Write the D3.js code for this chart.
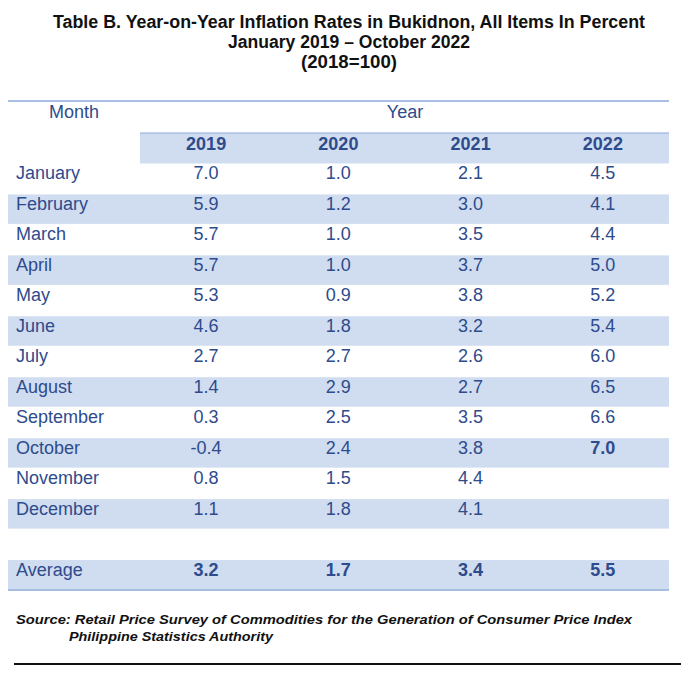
<!DOCTYPE html>
<html><head><meta charset="utf-8">
<script src="https://cdn.jsdelivr.net/npm/d3@7/dist/d3.min.js"></script>
<style>body{margin:0;background:#fff}svg{display:block}</style>
</head><body>
<script>
const titleLines = ["Table B. Year-on-Year Inflation Rates in Bukidnon, All Items In Percent","January 2019 \u2013 October 2022","(2018=100)"];
const years = ["2019","2020","2021","2022"];
const months = ["January","February","March","April","May","June","July","August","September","October","November","December"];
const v2019 = [7.0,5.9,5.7,5.7,5.3,4.6,2.7,1.4,0.3,-0.4,0.8,1.1];
const v2020 = [1.0,1.2,1.0,1.0,0.9,1.8,2.7,2.9,2.5,2.4,1.5,1.8];
const v2021 = [2.1,3.0,3.5,3.7,3.8,3.2,2.6,2.7,3.5,3.8,4.4,4.1];
const v2022 = [4.5,4.1,4.4,5.0,5.2,5.4,6.0,6.5,6.6,7.0,null,null];
const averages = [3.2,1.7,3.4,5.5];
const boldCells = [["October","2022"]];
const sourceLines = ["Source: Retail Price Survey of Commodities for the Generation of Consumer Price Index","Philippine Statistics Authority"];

const W=695,H=673;
const svg=d3.select("body").append("svg").attr("width",W).attr("height",H);
const series=[v2019,v2020,v2021,v2022];
const textCol="#2E4B8C", band="#D0DCF0", lineCol="#8EAADB";
const FONT="Liberation Sans, Arial, sans-serif";

// titles
const tl=svg.append("g").attr("font-family",FONT).attr("font-weight","bold").attr("font-size",17.5).attr("fill","#111");
const tW=[592,242,96];
titleLines.forEach((t,i)=>{
  tl.append("text").attr("x",349).attr("y",28+i*20).attr("text-anchor","middle")
    .attr("textLength",tW[i]).attr("lengthAdjust","spacingAndGlyphs").text(t);
});

const rowKeys=["header",...months,"blank","Average"];
const y=d3.scaleBand().domain(rowKeys).range([133,590]);
const x=d3.scaleBand().domain(years).range([140,669]);
const L=8,R=669;

// bands
const shaded=new Set(["February","April","June","August","October","December","Average"]);
rowKeys.forEach(k=>{
  if(k==="header"){
    svg.append("rect").attr("x",140).attr("y",y(k)).attr("width",R-140).attr("height",y.bandwidth()).attr("fill",band);
  } else if(shaded.has(k)){
    svg.append("rect").attr("x",L).attr("y",y(k)+0.5).attr("width",R-L).attr("height",y.bandwidth()-1).attr("fill",band);
  }
});
// lines
svg.append("line").attr("x1",L).attr("x2",R).attr("y1",101).attr("y2",101).attr("stroke",lineCol).attr("stroke-width",1.5);
svg.append("line").attr("x1",140).attr("x2",R).attr("y1",y("header")).attr("y2",y("header")).attr("stroke",lineCol).attr("stroke-width",1.2);
svg.append("line").attr("x1",L).attr("x2",R).attr("y1",590).attr("y2",590).attr("stroke",lineCol).attr("stroke-width",1.5);

const g=svg.append("g").attr("font-family",FONT).attr("font-size",18).attr("fill",textCol);
g.append("text").attr("x",74).attr("y",118).attr("text-anchor","middle").text("Month");
g.append("text").attr("x",405).attr("y",118).attr("text-anchor","middle").text("Year");
years.forEach(yr=>{
  g.append("text").attr("x",x(yr)+x.bandwidth()/2).attr("y",y("header")+17).attr("text-anchor","middle").attr("font-weight","bold").text(yr);
});
months.forEach((m,i)=>{
  g.append("text").attr("x",16).attr("y",y(m)+16).text(m);
  years.forEach((yr,j)=>{
    const v=series[j][i];
    if(v==null) return;
    const b=boldCells.some(c=>c[0]===m&&c[1]===yr);
    g.append("text").attr("x",x(yr)+x.bandwidth()/2).attr("y",y(m)+16).attr("text-anchor","middle")
      .attr("font-weight",b?"bold":null).text(d3.format(".1f")(v).replace("\u2212","-"));
  });
});
g.append("text").attr("x",16).attr("y",y("Average")+16).text("Average");
years.forEach((yr,j)=>{
  g.append("text").attr("x",x(yr)+x.bandwidth()/2).attr("y",y("Average")+16).attr("text-anchor","middle").attr("font-weight","bold").text(d3.format(".1f")(averages[j]));
});

// source
const s=svg.append("g").attr("font-family",FONT).attr("font-size",13.5).attr("font-weight","bold").attr("font-style","italic").attr("fill","#111");
s.append("text").attr("x",16).attr("y",624).attr("textLength",616).attr("lengthAdjust","spacingAndGlyphs").text(sourceLines[0]);
s.append("text").attr("x",69).attr("y",641).attr("textLength",204).attr("lengthAdjust","spacingAndGlyphs").text(sourceLines[1]);
svg.append("line").attr("x1",14).attr("x2",681).attr("y1",664).attr("y2",664).attr("stroke","#111").attr("stroke-width",2);
</script>
</body></html>
